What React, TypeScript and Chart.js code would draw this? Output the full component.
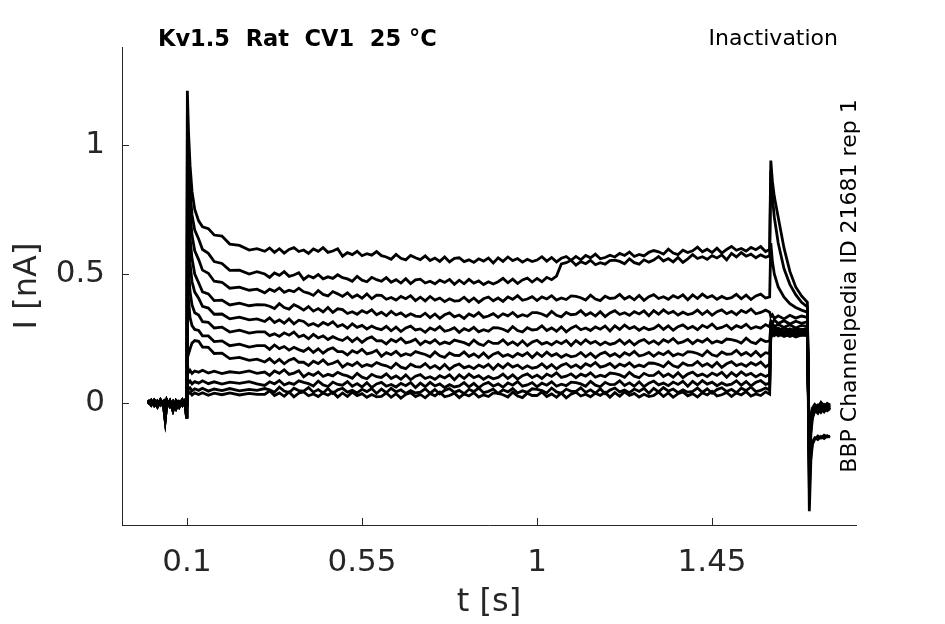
import React, { useEffect, useRef } from "react";
import Chart from "chart.js/auto";
import type { ChartConfiguration, Plugin } from "chart.js";

const FONT = "'DejaVu Sans', Verdana, sans-serif";
const AXIS_COLOR = "#262626";

const X_TICKS = [0.1, 0.55, 1, 1.45];
const Y_TICKS = [0, 0.5, 1];

// holding period before the step
const BASE_T = [0.0, 0.008, 0.016, 0.024, 0.032, 0.04, 0.044, 0.048, 0.056, 0.064, 0.072, 0.08, 0.088, 0.095, 0.099];
const BASE_A = [0.006, -0.008, 0.011, -0.004, 0.009, -0.012, -0.065, -0.006, 0.008, -0.011, 0.004, -0.016, 0.006, -0.005, -0.055];
const BASE_B = [-0.004, 0.01, -0.01, 0.007, -0.008, 0.006, -0.02, 0.011, -0.013, 0.005, -0.022, 0.004, -0.009, 0.009, 0.002];
const BASE_C = [0.011, -0.002, 0.005, -0.015, 0.012, -0.006, 0.003, -0.016, 0.007, -0.03, 0.009, -0.004, 0.012, -0.01, -0.004];

// test pulse: onset, then one row per 0.1 s
const STEP_T = [
  0.1, 0.101, 0.104, 0.108, 0.113, 0.12, 0.13, 0.14, 0.155, 0.17, 0.19, 0.21, 0.235, 0.26, 0.28,
  0.3, 0.3125, 0.325, 0.3375, 0.35, 0.3625, 0.375, 0.3875,
  0.4, 0.4125, 0.425, 0.4375, 0.45, 0.4625, 0.475, 0.4875,
  0.5, 0.5125, 0.525, 0.5375, 0.55, 0.5625, 0.575, 0.5875,
  0.6, 0.6125, 0.625, 0.6375, 0.65, 0.6625, 0.675, 0.6875,
  0.7, 0.7125, 0.725, 0.7375, 0.75, 0.7625, 0.775, 0.7875,
  0.8, 0.8125, 0.825, 0.8375, 0.85, 0.8625, 0.875, 0.8875,
  0.9, 0.9125, 0.925, 0.9375, 0.95, 0.9625, 0.975, 0.9875,
  1.0, 1.0125, 1.025, 1.0375, 1.05, 1.0625, 1.075, 1.0875,
  1.1, 1.1125, 1.125, 1.1375, 1.15, 1.1625, 1.175, 1.1875,
  1.2, 1.2125, 1.225, 1.2375, 1.25, 1.2625, 1.275, 1.2875,
  1.3, 1.3125, 1.325, 1.3375, 1.35, 1.3625, 1.375, 1.3875,
  1.4, 1.4125, 1.425, 1.4375, 1.45, 1.4625, 1.475, 1.4875,
  1.5, 1.5125, 1.525, 1.5375, 1.55, 1.5625, 1.575, 1.5875,
  1.598,
];

// tail after the pulse
const END_T = [1.601, 1.605, 1.61, 1.62, 1.635, 1.65, 1.665, 1.68, 1.695, 1.7, 1.704, 1.708, 1.714, 1.722, 1.73, 1.738, 1.746, 1.753];

const STEP_1 = [
  -0.02, 1.21, 1.05, 0.92, 0.82, 0.75, 0.706, 0.683, 0.676, 0.651, 0.647, 0.616, 0.611, 0.593, 0.598,
  0.588, 0.601, 0.584, 0.598, 0.581, 0.595, 0.602, 0.587,
  0.593, 0.58, 0.597, 0.588, 0.602, 0.584, 0.589, 0.598,
  0.569, 0.583, 0.575, 0.588, 0.571, 0.579, 0.573, 0.587,
  0.571, 0.566, 0.557, 0.576, 0.561, 0.555, 0.572, 0.563,
  0.556, 0.57, 0.552, 0.562, 0.549, 0.566, 0.547, 0.561,
  0.563, 0.548, 0.555, 0.545, 0.559, 0.55, 0.562, 0.543,
  0.563, 0.549, 0.566, 0.552, 0.56, 0.546, 0.557, 0.548,
  0.554, 0.567, 0.55, 0.564, 0.547, 0.561, 0.568, 0.553,
  0.568, 0.555, 0.572, 0.563, 0.577, 0.559, 0.564, 0.573,
  0.566, 0.58, 0.572, 0.585, 0.568, 0.576, 0.57, 0.584,
  0.591, 0.586, 0.577, 0.596, 0.581, 0.575, 0.592, 0.583,
  0.59, 0.604, 0.586, 0.596, 0.583, 0.6, 0.581, 0.595,
  0.607, 0.592, 0.599, 0.589, 0.603, 0.594, 0.606, 0.587,
  0.595,
];
const STEP_2 = [
  0.0, 1.12, 0.95, 0.82, 0.73, 0.67, 0.636, 0.595, 0.58, 0.548, 0.541, 0.514, 0.515, 0.5, 0.509,
  0.5, 0.487, 0.504, 0.495, 0.509, 0.491, 0.496, 0.505,
  0.479, 0.493, 0.485, 0.498, 0.481, 0.489, 0.483, 0.497,
  0.486, 0.481, 0.472, 0.491, 0.476, 0.47, 0.487, 0.478,
  0.472, 0.486, 0.468, 0.478, 0.465, 0.482, 0.463, 0.477,
  0.48, 0.465, 0.472, 0.462, 0.476, 0.467, 0.479, 0.46,
  0.476, 0.462, 0.479, 0.465, 0.473, 0.459, 0.47, 0.461,
  0.47, 0.483, 0.466, 0.48, 0.463, 0.477, 0.484, 0.469,
  0.483, 0.47, 0.487, 0.478, 0.492, 0.539, 0.544, 0.553,
  0.534, 0.548, 0.54, 0.553, 0.536, 0.544, 0.538, 0.552,
  0.554, 0.549, 0.54, 0.559, 0.544, 0.538, 0.555, 0.546,
  0.554, 0.568, 0.55, 0.56, 0.547, 0.564, 0.545, 0.559,
  0.575, 0.56, 0.567, 0.557, 0.571, 0.562, 0.574, 0.555,
  0.58, 0.566, 0.583, 0.569, 0.577, 0.563, 0.574, 0.565,
  0.57,
];
const STEP_3 = [
  0.0, 1.02, 0.86, 0.74, 0.65, 0.59, 0.556, 0.515, 0.503, 0.472, 0.468, 0.445, 0.449, 0.437, 0.441,
  0.427, 0.441, 0.433, 0.446, 0.429, 0.437, 0.431, 0.445,
  0.431, 0.426, 0.417, 0.436, 0.421, 0.415, 0.432, 0.423,
  0.413, 0.427, 0.409, 0.419, 0.406, 0.423, 0.404, 0.418,
  0.417, 0.402, 0.409, 0.399, 0.413, 0.404, 0.416, 0.397,
  0.41, 0.396, 0.413, 0.399, 0.407, 0.393, 0.404, 0.395,
  0.397, 0.41, 0.393, 0.407, 0.39, 0.404, 0.411, 0.396,
  0.407, 0.394, 0.411, 0.402, 0.416, 0.398, 0.403, 0.412,
  0.397, 0.411, 0.403, 0.416, 0.399, 0.407, 0.401, 0.415,
  0.413, 0.408, 0.399, 0.418, 0.403, 0.397, 0.414, 0.405,
  0.407, 0.421, 0.403, 0.413, 0.4, 0.417, 0.398, 0.412,
  0.42, 0.405, 0.412, 0.402, 0.416, 0.407, 0.419, 0.4,
  0.419, 0.405, 0.422, 0.408, 0.416, 0.402, 0.413, 0.404,
  0.408, 0.421, 0.404, 0.418, 0.401, 0.415, 0.422, 0.407,
  0.411,
];
const STEP_4 = [
  0.0, 0.92, 0.76, 0.64, 0.56, 0.5, 0.466, 0.431, 0.423, 0.397, 0.399, 0.38, 0.387, 0.377, 0.381,
  0.38, 0.375, 0.366, 0.385, 0.37, 0.364, 0.381, 0.372,
  0.36, 0.374, 0.356, 0.366, 0.353, 0.37, 0.351, 0.365,
  0.362, 0.347, 0.354, 0.344, 0.358, 0.349, 0.361, 0.342,
  0.352, 0.338, 0.355, 0.341, 0.349, 0.335, 0.346, 0.337,
  0.335, 0.348, 0.331, 0.345, 0.328, 0.342, 0.349, 0.334,
  0.341, 0.328, 0.345, 0.336, 0.35, 0.332, 0.337, 0.346,
  0.332, 0.346, 0.338, 0.351, 0.334, 0.342, 0.336, 0.35,
  0.35, 0.345, 0.336, 0.355, 0.34, 0.334, 0.351, 0.342,
  0.344, 0.358, 0.34, 0.35, 0.337, 0.354, 0.335, 0.349,
  0.358, 0.343, 0.35, 0.34, 0.354, 0.345, 0.357, 0.338,
  0.358, 0.344, 0.361, 0.347, 0.355, 0.341, 0.352, 0.343,
  0.347, 0.36, 0.343, 0.357, 0.34, 0.354, 0.361, 0.346,
  0.355, 0.342, 0.359, 0.35, 0.364, 0.346, 0.351, 0.36,
  0.352,
];
const STEP_5 = [
  0.0, 0.8, 0.65, 0.54, 0.47, 0.43, 0.406, 0.375, 0.368, 0.344, 0.345, 0.326, 0.333, 0.322, 0.326,
  0.316, 0.33, 0.312, 0.322, 0.309, 0.326, 0.307, 0.321,
  0.316, 0.301, 0.308, 0.298, 0.312, 0.303, 0.315, 0.296,
  0.304, 0.29, 0.307, 0.293, 0.301, 0.287, 0.298, 0.289,
  0.284, 0.297, 0.28, 0.294, 0.277, 0.291, 0.298, 0.283,
  0.287, 0.274, 0.291, 0.282, 0.296, 0.278, 0.283, 0.292,
  0.274, 0.288, 0.28, 0.293, 0.276, 0.284, 0.278, 0.292,
  0.291, 0.286, 0.277, 0.296, 0.281, 0.275, 0.292, 0.283,
  0.285, 0.299, 0.281, 0.291, 0.278, 0.295, 0.276, 0.29,
  0.299, 0.284, 0.291, 0.281, 0.295, 0.286, 0.298, 0.279,
  0.299, 0.285, 0.302, 0.288, 0.296, 0.282, 0.293, 0.284,
  0.289, 0.302, 0.285, 0.299, 0.282, 0.296, 0.303, 0.288,
  0.297, 0.284, 0.301, 0.292, 0.306, 0.288, 0.293, 0.302,
  0.286, 0.3, 0.292, 0.305, 0.288, 0.296, 0.29, 0.304,
  0.295,
];
const STEP_6 = [
  0.0, 0.66, 0.52, 0.43, 0.38, 0.35, 0.341, 0.315, 0.313, 0.291, 0.294, 0.275, 0.282, 0.271, 0.276,
  0.276, 0.261, 0.268, 0.258, 0.272, 0.263, 0.275, 0.256,
  0.263, 0.249, 0.266, 0.252, 0.26, 0.246, 0.257, 0.248,
  0.242, 0.255, 0.238, 0.252, 0.235, 0.249, 0.256, 0.241,
  0.242, 0.229, 0.246, 0.237, 0.251, 0.233, 0.238, 0.247,
  0.226, 0.24, 0.232, 0.245, 0.228, 0.236, 0.23, 0.244,
  0.239, 0.234, 0.225, 0.244, 0.229, 0.223, 0.24, 0.231,
  0.231, 0.245, 0.227, 0.237, 0.224, 0.241, 0.222, 0.236,
  0.243, 0.228, 0.235, 0.225, 0.239, 0.23, 0.242, 0.223,
  0.242, 0.228, 0.245, 0.231, 0.239, 0.225, 0.236, 0.227,
  0.232, 0.245, 0.228, 0.242, 0.225, 0.239, 0.246, 0.231,
  0.241, 0.228, 0.245, 0.236, 0.25, 0.232, 0.237, 0.246,
  0.23, 0.244, 0.236, 0.249, 0.232, 0.24, 0.234, 0.248,
  0.246, 0.241, 0.232, 0.251, 0.236, 0.23, 0.247, 0.238,
  0.24,
];
const STEP_7 = [
  0.0, 0.5, 0.4, 0.33, 0.3, 0.285, 0.281, 0.26, 0.26, 0.238, 0.241, 0.222, 0.228, 0.217, 0.222,
  0.222, 0.208, 0.225, 0.211, 0.219, 0.205, 0.216, 0.207,
  0.2, 0.213, 0.196, 0.21, 0.193, 0.207, 0.214, 0.199,
  0.199, 0.186, 0.203, 0.194, 0.208, 0.19, 0.195, 0.204,
  0.181, 0.195, 0.187, 0.2, 0.183, 0.191, 0.185, 0.199,
  0.193, 0.188, 0.179, 0.198, 0.183, 0.177, 0.194, 0.185,
  0.184, 0.198, 0.18, 0.19, 0.177, 0.194, 0.175, 0.189,
  0.196, 0.181, 0.188, 0.178, 0.192, 0.183, 0.195, 0.176,
  0.194, 0.18, 0.197, 0.183, 0.191, 0.177, 0.188, 0.179,
  0.183, 0.196, 0.179, 0.193, 0.176, 0.19, 0.197, 0.182,
  0.191, 0.178, 0.195, 0.186, 0.2, 0.182, 0.187, 0.196,
  0.181, 0.195, 0.187, 0.2, 0.183, 0.191, 0.185, 0.199,
  0.197, 0.192, 0.183, 0.202, 0.187, 0.181, 0.198, 0.189,
  0.19, 0.204, 0.186, 0.196, 0.183, 0.2, 0.181, 0.195,
  0.191,
];
const STEP_8 = [
  0.0, 0.2, 0.19, 0.21, 0.232, 0.242, 0.239, 0.217, 0.216, 0.192, 0.193, 0.172, 0.177, 0.165, 0.17,
  0.159, 0.172, 0.155, 0.169, 0.152, 0.166, 0.173, 0.158,
  0.158, 0.145, 0.162, 0.153, 0.167, 0.149, 0.154, 0.163,
  0.139, 0.153, 0.145, 0.158, 0.141, 0.149, 0.143, 0.157,
  0.149, 0.144, 0.135, 0.154, 0.139, 0.133, 0.15, 0.141,
  0.139, 0.153, 0.135, 0.145, 0.132, 0.149, 0.13, 0.144,
  0.151, 0.136, 0.143, 0.133, 0.147, 0.138, 0.15, 0.131,
  0.15, 0.136, 0.153, 0.139, 0.147, 0.133, 0.144, 0.135,
  0.139, 0.152, 0.135, 0.149, 0.132, 0.146, 0.153, 0.138,
  0.148, 0.135, 0.152, 0.143, 0.157, 0.139, 0.144, 0.153,
  0.137, 0.151, 0.143, 0.156, 0.139, 0.147, 0.141, 0.155,
  0.154, 0.149, 0.14, 0.159, 0.144, 0.138, 0.155, 0.146,
  0.147, 0.161, 0.143, 0.153, 0.14, 0.157, 0.138, 0.152,
  0.16, 0.145, 0.152, 0.142, 0.156, 0.147, 0.159, 0.14,
  0.15,
];
const STEP_9 = [
  0.0, 0.15, 0.118, 0.126, 0.115, 0.124, 0.119, 0.127, 0.116, 0.123, 0.114, 0.121, 0.117, 0.124, 0.115,
  0.12, 0.107, 0.124, 0.115, 0.129, 0.111, 0.116, 0.125,
  0.101, 0.115, 0.107, 0.12, 0.103, 0.111, 0.105, 0.119,
  0.11, 0.105, 0.096, 0.115, 0.1, 0.094, 0.111, 0.102,
  0.099, 0.113, 0.095, 0.105, 0.092, 0.109, 0.09, 0.104,
  0.11, 0.095, 0.102, 0.092, 0.106, 0.097, 0.109, 0.09,
  0.109, 0.095, 0.112, 0.098, 0.106, 0.092, 0.103, 0.094,
  0.099, 0.112, 0.095, 0.109, 0.092, 0.106, 0.113, 0.098,
  0.108, 0.095, 0.112, 0.103, 0.117, 0.099, 0.104, 0.113,
  0.098, 0.112, 0.104, 0.117, 0.1, 0.108, 0.102, 0.116,
  0.114, 0.109, 0.1, 0.119, 0.104, 0.098, 0.115, 0.106,
  0.107, 0.121, 0.103, 0.113, 0.1, 0.117, 0.098, 0.112,
  0.12, 0.105, 0.112, 0.102, 0.116, 0.107, 0.119, 0.1,
  0.118, 0.104, 0.121, 0.107, 0.115, 0.101, 0.112, 0.103,
  0.11,
];
const STEP_10 = [
  0.0, 0.095, 0.078, 0.085, 0.074, 0.083, 0.077, 0.086, 0.075, 0.082, 0.073, 0.081, 0.076, 0.083, 0.074,
  0.068, 0.082, 0.074, 0.087, 0.07, 0.078, 0.072, 0.086,
  0.08, 0.075, 0.066, 0.085, 0.07, 0.064, 0.081, 0.072,
  0.069, 0.083, 0.065, 0.075, 0.062, 0.079, 0.06, 0.074,
  0.08, 0.065, 0.072, 0.062, 0.076, 0.067, 0.079, 0.06,
  0.077, 0.063, 0.08, 0.066, 0.074, 0.06, 0.071, 0.062,
  0.066, 0.079, 0.062, 0.076, 0.059, 0.073, 0.08, 0.065,
  0.074, 0.061, 0.078, 0.069, 0.083, 0.065, 0.07, 0.079,
  0.063, 0.077, 0.069, 0.082, 0.065, 0.073, 0.067, 0.081,
  0.079, 0.074, 0.065, 0.084, 0.069, 0.063, 0.08, 0.071,
  0.072, 0.086, 0.068, 0.078, 0.065, 0.082, 0.063, 0.077,
  0.085, 0.07, 0.077, 0.067, 0.081, 0.072, 0.084, 0.065,
  0.084, 0.07, 0.087, 0.073, 0.081, 0.067, 0.078, 0.069,
  0.073, 0.086, 0.069, 0.083, 0.066, 0.08, 0.087, 0.072,
  0.077,
];
const STEP_11 = [
  0.0, 0.07, 0.052, 0.058, 0.047, 0.055, 0.049, 0.057, 0.046, 0.054, 0.048, 0.056, 0.047, 0.053, 0.049,
  0.056, 0.051, 0.042, 0.061, 0.046, 0.04, 0.057, 0.048,
  0.046, 0.06, 0.042, 0.052, 0.039, 0.056, 0.037, 0.051,
  0.057, 0.042, 0.049, 0.039, 0.053, 0.044, 0.056, 0.037,
  0.054, 0.04, 0.057, 0.043, 0.051, 0.037, 0.048, 0.039,
  0.042, 0.055, 0.038, 0.052, 0.035, 0.049, 0.056, 0.041,
  0.049, 0.036, 0.053, 0.044, 0.058, 0.04, 0.045, 0.054,
  0.037, 0.051, 0.043, 0.056, 0.039, 0.047, 0.041, 0.055,
  0.053, 0.048, 0.039, 0.058, 0.043, 0.037, 0.054, 0.045,
  0.045, 0.059, 0.041, 0.051, 0.038, 0.055, 0.036, 0.05,
  0.058, 0.043, 0.05, 0.04, 0.054, 0.045, 0.057, 0.038,
  0.057, 0.043, 0.06, 0.046, 0.054, 0.04, 0.051, 0.042,
  0.045, 0.058, 0.041, 0.055, 0.038, 0.052, 0.059, 0.044,
  0.053, 0.04, 0.057, 0.048, 0.062, 0.044, 0.049, 0.058,
  0.05,
];
const STEP_12 = [
  0.0, 0.05, 0.036, 0.041, 0.031, 0.039, 0.033, 0.04, 0.03, 0.038, 0.032, 0.039, 0.031, 0.037, 0.033,
  0.033, 0.047, 0.029, 0.039, 0.026, 0.043, 0.024, 0.038,
  0.043, 0.028, 0.035, 0.025, 0.039, 0.03, 0.042, 0.023,
  0.039, 0.025, 0.042, 0.028, 0.036, 0.022, 0.033, 0.024,
  0.026, 0.039, 0.022, 0.036, 0.019, 0.033, 0.04, 0.025,
  0.033, 0.02, 0.037, 0.028, 0.042, 0.024, 0.029, 0.038,
  0.021, 0.035, 0.027, 0.04, 0.023, 0.031, 0.025, 0.039,
  0.037, 0.032, 0.023, 0.042, 0.027, 0.021, 0.038, 0.029,
  0.029, 0.043, 0.025, 0.035, 0.022, 0.039, 0.02, 0.034,
  0.042, 0.027, 0.034, 0.024, 0.038, 0.029, 0.041, 0.022,
  0.04, 0.026, 0.043, 0.029, 0.037, 0.023, 0.034, 0.025,
  0.029, 0.042, 0.025, 0.039, 0.022, 0.036, 0.043, 0.028,
  0.036, 0.023, 0.04, 0.031, 0.045, 0.027, 0.032, 0.041,
  0.025, 0.039, 0.031, 0.044, 0.027, 0.035, 0.029, 0.043,
  0.034,
];

const END_1 = [0.94, 0.86, 0.8, 0.72, 0.6, 0.51, 0.45, 0.415, 0.39, -0.42, -0.22, -0.16, -0.14, -0.128, -0.136, -0.125, -0.132, -0.128];
const END_2 = [0.9, 0.8, 0.72, 0.62, 0.52, 0.46, 0.42, 0.39, 0.372, -0.33, -0.2, -0.15, -0.135, -0.142, -0.13, -0.138, -0.127, -0.133];
const END_3 = [0.62, 0.55, 0.5, 0.45, 0.41, 0.385, 0.37, 0.36, 0.352, -0.28, -0.12, -0.06, -0.03, -0.015, -0.028, -0.012, -0.022, -0.016];
const END_4 = [0.335, 0.342, 0.328, 0.338, 0.326, 0.34, 0.329, 0.337, 0.332, -0.25, -0.1, -0.045, -0.02, -0.008, -0.022, -0.006, -0.018, -0.01];
const END_5 = [0.318, 0.31, 0.322, 0.308, 0.319, 0.306, 0.317, 0.309, 0.315, -0.23, -0.09, -0.04, -0.025, -0.035, -0.018, -0.03, -0.014, -0.024];
const END_6 = [0.3, 0.309, 0.296, 0.305, 0.293, 0.303, 0.291, 0.301, 0.297, -0.21, -0.085, -0.035, -0.012, -0.026, -0.004, -0.02, -0.008, -0.015];
const END_7 = [0.292, 0.284, 0.295, 0.282, 0.291, 0.28, 0.289, 0.283, 0.29, -0.2, -0.08, -0.05, -0.032, -0.018, -0.036, -0.02, -0.03, -0.022];
const END_8 = [0.285, 0.293, 0.281, 0.29, 0.278, 0.288, 0.276, 0.286, 0.282, -0.19, -0.075, -0.03, -0.01, -0.024, -0.006, -0.018, -0.004, -0.012];
const END_9 = [0.28, 0.272, 0.283, 0.27, 0.279, 0.268, 0.277, 0.271, 0.276, -0.18, -0.07, -0.042, -0.028, -0.04, -0.022, -0.034, -0.018, -0.026];
const END_10 = [0.275, 0.283, 0.271, 0.279, 0.268, 0.277, 0.266, 0.274, 0.27, -0.17, -0.065, -0.025, -0.008, -0.02, 0.0, -0.015, -0.005, -0.01];
const END_11 = [0.27, 0.262, 0.273, 0.26, 0.269, 0.258, 0.267, 0.262, 0.266, -0.16, -0.06, -0.038, -0.022, -0.034, -0.016, -0.028, -0.012, -0.02];
const END_12 = [0.265, 0.273, 0.261, 0.27, 0.258, 0.267, 0.256, 0.264, 0.261, -0.15, -0.055, -0.02, -0.006, -0.018, 0.002, -0.012, -0.002, -0.008];

const TRACES = [
  { base: BASE_A, step: STEP_1, end: END_1 },
  { base: BASE_B, step: STEP_2, end: END_2 },
  { base: BASE_C, step: STEP_3, end: END_3 },
  { base: BASE_A, step: STEP_4, end: END_4 },
  { base: BASE_B, step: STEP_5, end: END_5 },
  { base: BASE_C, step: STEP_6, end: END_6 },
  { base: BASE_A, step: STEP_7, end: END_7 },
  { base: BASE_B, step: STEP_8, end: END_8 },
  { base: BASE_C, step: STEP_9, end: END_9 },
  { base: BASE_A, step: STEP_10, end: END_10 },
  { base: BASE_B, step: STEP_11, end: END_11 },
  { base: BASE_C, step: STEP_12, end: END_12 },
];

const zip = (times: number[], values: number[]) =>
  values.slice(0, times.length).map((y, i) => ({ x: times[i], y }));

const annotationPlugin: Plugin = {
  id: "traceAnnotations",
  afterDraw(chart) {
    const { ctx, chartArea, scales } = chart;
    ctx.save();

    // inward tick marks
    ctx.strokeStyle = AXIS_COLOR;
    ctx.lineWidth = 1;
    ctx.beginPath();
    X_TICKS.forEach((v) => {
      const px = Math.round(scales.x.getPixelForValue(v)) + 0.5;
      ctx.moveTo(px, chartArea.bottom);
      ctx.lineTo(px, chartArea.bottom - 7);
    });
    Y_TICKS.forEach((v) => {
      const py = Math.round(scales.y.getPixelForValue(v)) + 0.5;
      ctx.moveTo(chartArea.left, py);
      ctx.lineTo(chartArea.left + 7, py);
    });
    ctx.stroke();

    // axis titles
    ctx.fillStyle = AXIS_COLOR;
    ctx.font = `32px ${FONT}`;
    ctx.textAlign = "center";
    ctx.textBaseline = "middle";
    ctx.fillText("t [s]", (chartArea.left + chartArea.right) / 2, 603);
    ctx.save();
    ctx.translate(28, (chartArea.top + chartArea.bottom) / 2);
    ctx.rotate(-Math.PI / 2);
    ctx.fillText("I [nA]", 0, 0);
    ctx.restore();

    // header texts
    ctx.fillStyle = "#000";
    ctx.font = `bold 22.5px ${FONT}`;
    ctx.textAlign = "left";
    ctx.fillText("Kv1.5  Rat  CV1  25 °C", 158, 40);
    ctx.font = `22px ${FONT}`;
    ctx.textAlign = "right";
    ctx.fillText("Inactivation", 838, 39);

    ctx.save();
    ctx.translate(850, 286);
    ctx.rotate(-Math.PI / 2);
    ctx.textAlign = "center";
    ctx.fillText("BBP Channelpedia ID 21681 rep 1", 0, 0);
    ctx.restore();

    ctx.restore();
  },
};

const TraceChart: React.FC = () => {
  const canvasRef = useRef<HTMLCanvasElement | null>(null);

  useEffect(() => {
    const canvas = canvasRef.current;
    if (!canvas) return;

    const datasets = TRACES.map((trace, index) => ({
      label: `trace ${index + 1}`,
      data: [...zip(BASE_T, trace.base), ...zip(STEP_T, trace.step), ...zip(END_T, trace.end)],
      borderColor: "#000",
      backgroundColor: "#000",
      borderWidth: 2.8,
      pointRadius: 0,
      tension: 0,
      fill: false,
    }));

    const tickFont = { family: FONT, size: 31 };

    const config: ChartConfiguration<"line"> = {
      type: "line",
      data: { datasets },
      options: {
        responsive: false,
        animation: false,
        parsing: false,
        layout: { padding: { left: 0, right: 89, top: 47, bottom: 0 } },
        plugins: {
          legend: { display: false },
          tooltip: { enabled: false },
        },
        scales: {
          x: {
            type: "linear",
            min: -0.067,
            max: 1.82,
            afterBuildTicks: (scale) => {
              scale.ticks = X_TICKS.map((value) => ({ value }));
            },
            afterFit: (scale) => {
              scale.height = 99;
            },
            grid: { display: true, drawOnChartArea: false, drawTicks: false, color: "rgba(0,0,0,0)" },
            border: { display: true, color: AXIS_COLOR, width: 1 },
            ticks: {
              color: AXIS_COLOR,
              font: tickFont,
              padding: 19,
              maxRotation: 0,
              autoSkip: false,
              callback: (value) => String(value),
            },
          },
          y: {
            type: "linear",
            min: -0.473,
            max: 1.38,
            afterBuildTicks: (scale) => {
              scale.ticks = Y_TICKS.map((value) => ({ value }));
            },
            afterFit: (scale) => {
              scale.width = 122;
            },
            grid: { display: true, drawOnChartArea: false, drawTicks: false, color: "rgba(0,0,0,0)" },
            border: { display: true, color: AXIS_COLOR, width: 1 },
            ticks: {
              color: AXIS_COLOR,
              font: tickFont,
              padding: 17,
              autoSkip: false,
              callback: (value) => String(value),
            },
          },
        },
      },
      plugins: [annotationPlugin],
    };

    const chart = new Chart(canvas, config);

    return () => {
      chart.destroy();
    };
  }, []);

  return <canvas ref={canvasRef} width={945} height={624} style={{ width: 945, height: 624 }} />;
};

export default function App() {
  return (
    <div style={{ position: "fixed", left: 0, top: 0, width: 945, height: 624, background: "#fff" }}>
      <TraceChart />
    </div>
  );
}
